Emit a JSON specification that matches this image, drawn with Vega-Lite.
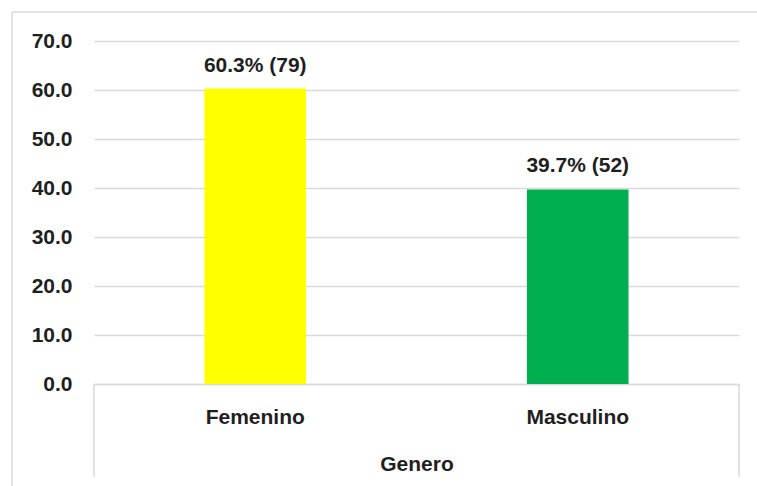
{
  "$schema": "https://vega.github.io/schema/vega-lite/v6.json",
  "width": 645,
  "height": 343,
  "autosize": {"type": "none"},
  "padding": {"left": 94, "top": 41, "right": 18, "bottom": 102},
  "background": "white",
  "config": {
    "view": {"stroke": null},
    "font": "Liberation Sans"
  },
  "layer": [
    {
      "data": {"values": [
        {"Genero": "Femenino", "pct": 60.3, "n": 79},
        {"Genero": "Masculino", "pct": 39.7, "n": 52}
      ]},
      "layer": [
        {
          "mark": {"type": "bar", "width": {"band": 0.315}},
          "encoding": {
            "x": {
              "field": "Genero",
              "type": "nominal",
              "sort": ["Femenino", "Masculino"],
              "scale": {"paddingInner": 0, "paddingOuter": 0},
              "axis": {
                "title": "Genero",
                "bandPosition": 0.5,
                "labelAlign": "center",
                "labelAngle": 0,
                "labelFont": "Liberation Sans",
                "labelFontSize": 21,
                "labelFontWeight": "bold",
                "labelColor": "#1f1f1f",
                "labelPadding": 22,
                "ticks": false,
                "domainColor": "#d9d9d9",
                "domainWidth": 1.5,
                "titleFont": "Liberation Sans",
                "titleFontSize": 21,
                "titleFontWeight": "bold",
                "titleColor": "#1f1f1f",
                "titlePadding": 26
              }
            },
            "y": {
              "field": "pct",
              "type": "quantitative",
              "scale": {"domain": [0, 70], "nice": false},
              "axis": {
                "title": null,
                "values": [0, 10, 20, 30, 40, 50, 60, 70],
                "format": ".1f",
                "labelFont": "Liberation Sans",
                "labelFontSize": 21,
                "labelFontWeight": "bold",
                "labelColor": "#1f1f1f",
                "labelPadding": 22,
                "ticks": false,
                "domain": false,
                "gridColor": "#d9d9d9",
                "gridWidth": 1.5
              }
            },
            "color": {
              "field": "Genero",
              "type": "nominal",
              "scale": {"domain": ["Femenino", "Masculino"], "range": ["#FFFF00", "#00B050"]},
              "legend": null
            }
          }
        },
        {
          "transform": [{"calculate": "format(datum.pct, '.1f') + '% (' + datum.n + ')'", "as": "label"}],
          "mark": {
            "type": "text",
            "baseline": "alphabetic",
            "dy": -17,
            "font": "Liberation Sans",
            "fontSize": 21,
            "fontWeight": "bold",
            "color": "#1f1f1f"
          },
          "encoding": {
            "x": {"field": "Genero", "type": "nominal"},
            "y": {"field": "pct", "type": "quantitative"},
            "text": {"field": "label"}
          }
        }
      ]
    },
    {
      "data": {"values": [{"from": "Femenino", "to": "Masculino"}]},
      "mark": {"type": "rule", "color": "#d9d9d9", "strokeWidth": 1.5},
      "encoding": {
        "x": {"field": "from", "type": "nominal", "bandPosition": -0.254},
        "x2": {"field": "to", "bandPosition": 1.2},
        "y": {"datum": 75.9, "type": "quantitative"}
      }
    },
    {
      "data": {"values": [{"from": "Femenino"}]},
      "mark": {"type": "rule", "color": "#d9d9d9", "strokeWidth": 1.5},
      "encoding": {
        "x": {"field": "from", "type": "nominal", "bandPosition": -0.254},
        "y": {"datum": 75.9, "type": "quantitative"},
        "y2": {"datum": -25}
      }
    },
    {
      "data": {"values": [{"Genero": "Femenino"}]},
      "mark": {"type": "rule", "color": "#d9d9d9", "strokeWidth": 1.5},
      "encoding": {
        "x": {"field": "Genero", "type": "nominal", "bandPosition": 0},
        "y": {"datum": 0, "type": "quantitative"},
        "y2": {"datum": -19}
      }
    },
    {
      "data": {"values": [{"Genero": "Masculino"}]},
      "mark": {"type": "rule", "color": "#d9d9d9", "strokeWidth": 1.5},
      "encoding": {
        "x": {"field": "Genero", "type": "nominal", "bandPosition": 1},
        "y": {"datum": 0, "type": "quantitative"},
        "y2": {"datum": -19}
      }
    }
  ]
}
